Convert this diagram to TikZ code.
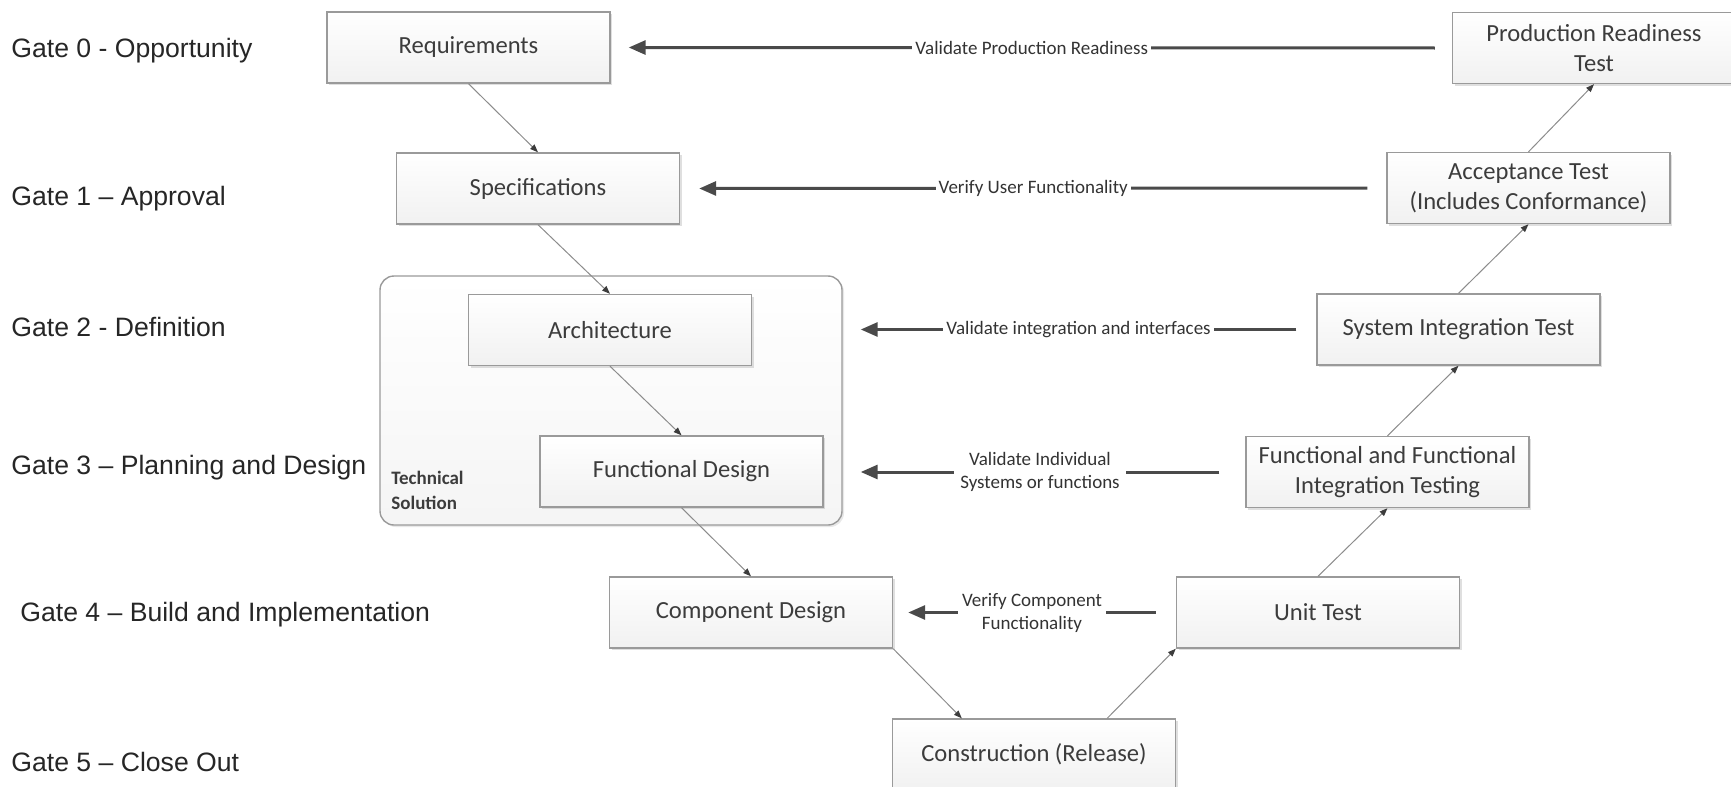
\documentclass[tikz,border=0pt]{standalone}
\usepackage{fontspec}
\setmainfont{Carlito}
\newfontfamily\gatefont{Liberation Sans}
\usetikzlibrary{arrows.meta,shadows}

\definecolor{boxline}{HTML}{9A9A9A}
\definecolor{boxtext}{HTML}{3C3C3C}
\definecolor{bigline}{HTML}{4A4A4A}
\definecolor{thinline}{HTML}{8C8C8C}
\definecolor{gatetext}{HTML}{262626}
\definecolor{labeltext}{HTML}{333333}

\begin{document}
\begin{tikzpicture}[x=0.5pt,y=-0.5pt,
  stage/.style={draw=boxline, line width=0.7pt, top color=white, bottom color=gray!11,
    inner sep=0pt, minimum width=141.5pt, minimum height=35.5pt, align=center,
    text=boxtext, font=\fontsize{12.3}{15}\selectfont,
    drop shadow={shadow xshift=1pt, shadow yshift=-1pt, opacity=0.25}},
  groupbox/.style={draw=boxline, line width=0.7pt, rounded corners=7pt,
    top color=white, bottom color=gray!8, inner sep=0pt,
    minimum width=231pt, minimum height=124.5pt,
    drop shadow={shadow xshift=1pt, shadow yshift=-1pt, opacity=0.18}},
  gate/.style={anchor=west, inner sep=0pt, text=gatetext, font=\gatefont\fontsize{13.3}{16}\selectfont},
  feedback/.style={draw=bigline, line width=1.5pt, -{Triangle[length=8.5pt, width=7pt]}},
  flow/.style={draw=thinline, line width=0.5pt, -{Triangle[length=4pt, width=3pt, color=boxtext]}},
  lbl/.style={fill=white, inner xsep=1.5pt, inner ysep=0pt, align=center,
    text=labeltext, font=\fontsize{9.5}{11.5}\selectfont}
]
\useasboundingbox (0,0) rectangle (1731,787);

% gate labels on the left
\node[gate] (g0) at (11,51)  {Gate 0 - Opportunity};
\node[gate] (g1) at (11,199) {Gate 1 – Approval};
\node[gate] (g2) at (11,327) {Gate 2 - Definition};
\node[gate] (g3) at (11,468) {Gate 3 – Planning and Design};
\node[gate] (g4) at (20,615) {Gate 4 – Build and Implementation};
\node[gate] (g5) at (11,762) {Gate 5 – Close Out};

% grouping box for the technical solution
\node[groupbox] (ts) at (611,400.5) {};
\node[anchor=west, inner sep=0pt, align=left, text=boxtext,
  font=\bfseries\fontsize{9.5}{12.5}\selectfont] (tslbl) at (391,490.5) {Technical\\Solution};

% left leg of the V
\node[stage] (req)  at (468.5,47.5) {Requirements};
\node[stage] (spec) at (538,188.5)  {Specifications};
\node[stage] (arch) at (610,330)    {Architecture};
\node[stage] (fd)   at (681.5,471.5){Functional Design};
\node[stage] (cd)   at (751,612.5)  {Component Design};
\node[stage] (cons) at (1034,754.5) {Construction (Release)};

% right leg of the V
\node[stage] (ut)   at (1318,612.5) {Unit Test};
\node[stage] (ffit) at (1387.5,472) {Functional and Functional\\Integration Testing};
\node[stage] (sit)  at (1458.5,329.5) {System Integration Test};
\node[stage] (acc)  at (1528.5,188) {Acceptance Test\\(Includes Conformance)};
\node[stage] (prt)  at (1594,48)    {Production Readiness\\Test};

% development flow
\draw[flow] (req.south)  -- (spec.north);
\draw[flow] (spec.south) -- (arch.north);
\draw[flow] (arch.south) -- (fd.north);
\draw[flow] (fd.south)   -- (cd.north);
\coordinate (consin)  at ([xshift=35pt]cons.north west);
\coordinate (consout) at ([xshift=-34.5pt]cons.north east);
\draw[flow] (cd.south east) -- (consin);
\draw[flow] (consout) -- (ut.south west);
\draw[flow] (ut.north)   -- (ffit.south);
\draw[flow] (ffit.north) -- (sit.south);
\draw[flow] (sit.north)  -- (acc.south);
\draw[flow] (acc.north)  -- (prt.south);

% verification and validation links
\coordinate (tsA) at (ts.east |- sit.west);
\coordinate (tsF) at (ts.east |- ffit.west);
\draw[feedback] ([xshift=-8.5pt]prt.west) -- node[lbl] {Validate Production Readiness} ([xshift=9pt]req.east);
\draw[feedback] ([xshift=-9.5pt]acc.west) -- node[lbl] {Verify User Functionality} ([xshift=9.5pt]spec.east);
\draw[feedback] ([xshift=-10pt]sit.west) -- node[lbl] {Validate integration and interfaces} ([xshift=9pt]tsA);
\draw[feedback] ([xshift=-13pt]ffit.west) -- node[lbl, inner xsep=3pt] {Validate Individual\\Systems or functions} ([xshift=9pt]tsF);
\draw[feedback] ([xshift=-10pt]ut.west) -- node[lbl, inner xsep=2pt] {Verify Component\\Functionality} ([xshift=7.5pt]cd.east);
\end{tikzpicture}
\end{document}
